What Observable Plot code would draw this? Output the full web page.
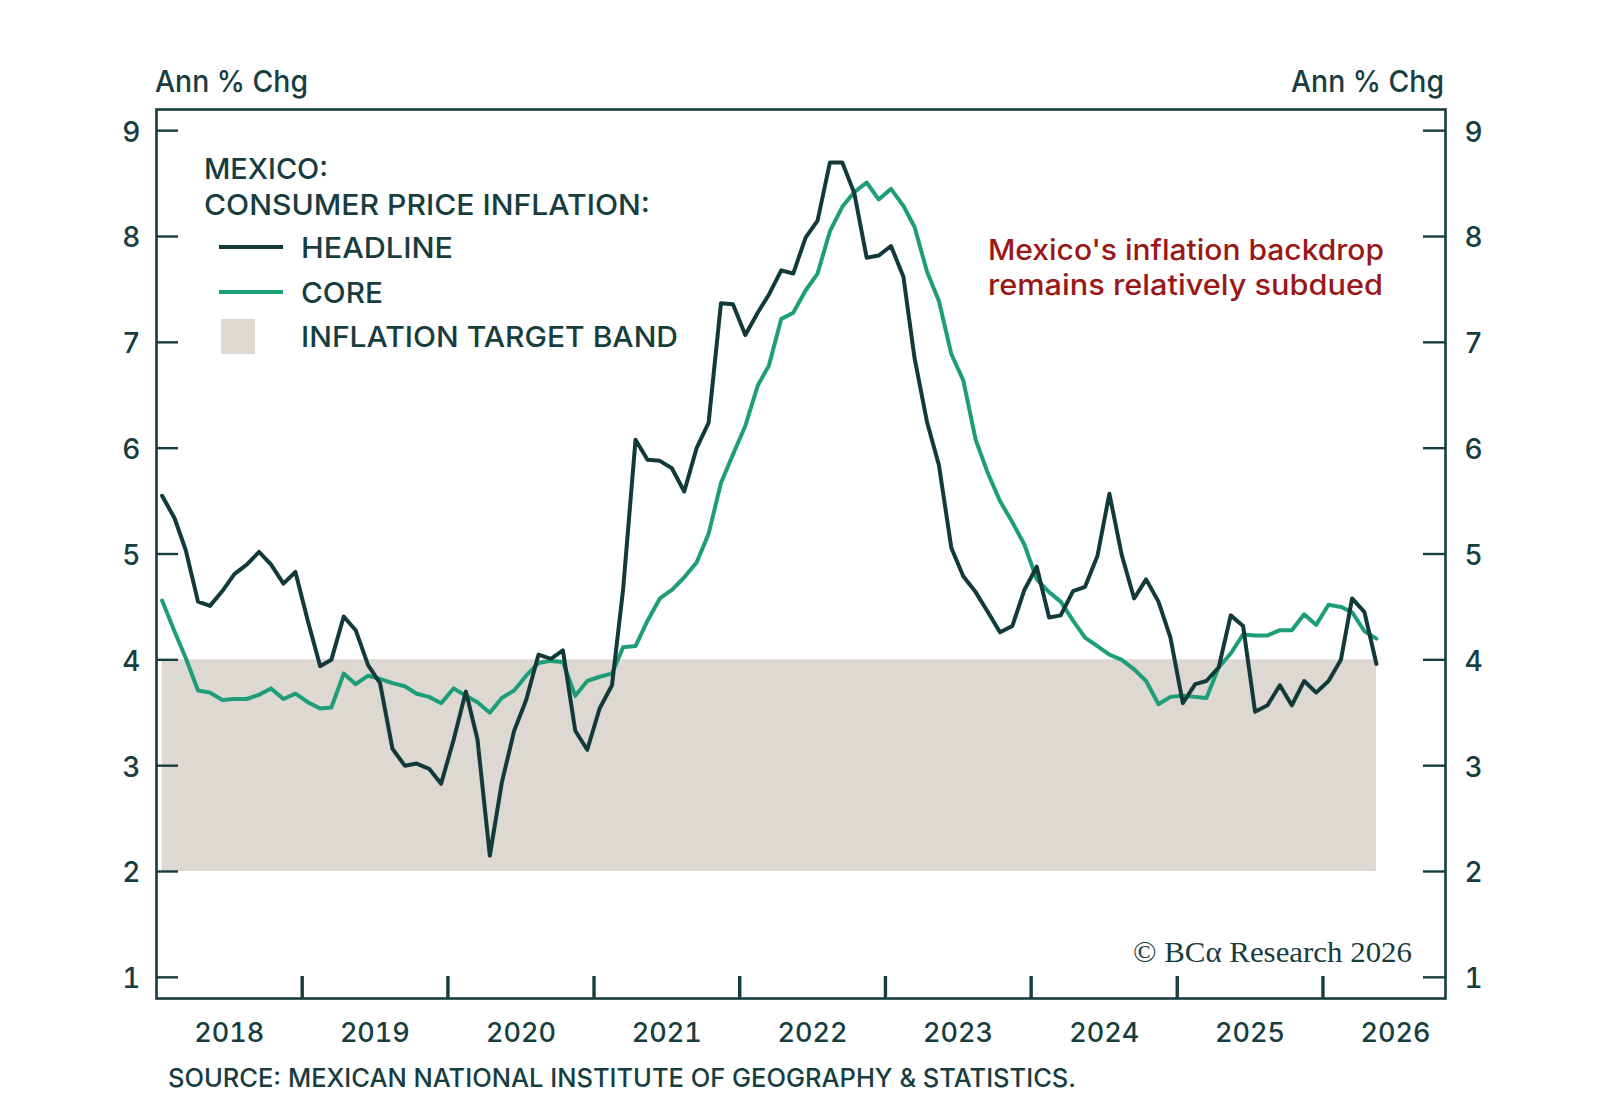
<!DOCTYPE html>
<html><head><meta charset="utf-8">
<script src="https://cdn.jsdelivr.net/npm/d3@7"></script>
<script src="https://cdn.jsdelivr.net/npm/@observablehq/plot@0.6"></script>
<style>
html,body{margin:0;padding:0;background:#fff;}
#chart svg{display:block;}
</style></head><body><div id="chart"></div>
<script>
// ---- data (monthly, Jan 2018 .. May 2026), annual % change ----
const startYear = 2018;
const headline = [
  5.55, 5.34, 5.04, 4.55, 4.51, 4.65, 4.81, 4.90, 5.02, 4.90, 4.72, 4.83,
  4.37, 3.94, 4.00, 4.41, 4.28, 3.95, 3.78, 3.16, 3.00, 3.02, 2.97, 2.83,
  3.24, 3.70, 3.25, 2.15, 2.84, 3.33, 3.62, 4.05, 4.01, 4.09, 3.33, 3.15,
  3.54, 3.76, 4.67, 6.08, 5.89, 5.88, 5.81, 5.59, 6.00, 6.24, 7.37, 7.36,
  7.07, 7.28, 7.45, 7.68, 7.65, 7.99, 8.15, 8.70, 8.70, 8.41, 7.80, 7.82,
  7.91, 7.62, 6.85, 6.25, 5.84, 5.06, 4.79, 4.64, 4.45, 4.26, 4.32, 4.66,
  4.88, 4.40, 4.42, 4.65, 4.69, 4.98, 5.57, 4.99, 4.58, 4.76, 4.55, 4.21,
  3.59, 3.77, 3.80, 3.93, 4.42, 4.32, 3.51, 3.57, 3.76, 3.57, 3.80, 3.69,
  3.80, 4.00, 4.58, 4.45, 3.96
];
const core = [
  4.56, 4.27, 4.02, 3.71, 3.69, 3.62, 3.63, 3.63, 3.67, 3.73, 3.63, 3.68,
  3.60, 3.54, 3.55, 3.87, 3.77, 3.85, 3.82, 3.78, 3.75, 3.68, 3.65, 3.59,
  3.73, 3.66, 3.60, 3.50, 3.64, 3.71, 3.85, 3.97, 3.99, 3.98, 3.66, 3.80,
  3.84, 3.87, 4.12, 4.13, 4.37, 4.58, 4.66, 4.78, 4.92, 5.19, 5.67, 5.94,
  6.21, 6.59, 6.78, 7.22, 7.28, 7.49, 7.65, 8.05, 8.28, 8.42, 8.51, 8.35,
  8.45, 8.29, 8.09, 7.67, 7.39, 6.89, 6.64, 6.08, 5.76, 5.50, 5.30, 5.09,
  4.76, 4.64, 4.55, 4.37, 4.21, 4.13, 4.05, 4.00, 3.91, 3.80, 3.58, 3.65,
  3.66, 3.65, 3.64, 3.93, 4.06, 4.24, 4.23, 4.23, 4.28, 4.28, 4.43, 4.33,
  4.52, 4.50, 4.45, 4.27, 4.20
];
const bandLow = 2;
const bandHigh = 4;
const yTicks = [1, 2, 3, 4, 5, 6, 7, 8, 9];
const yearLabels = [2018, 2019, 2020, 2021, 2022, 2023, 2024, 2025, 2026];
const yearTicks = [2019, 2020, 2021, 2022, 2023, 2024, 2025, 2026];

// ---- styling ----
const INK = "#173d40", HEAD = "#123a3b", CORE = "#1d9e79", BAND = "#ddd8d2", RED = "#9a1717";
const FONT = "Inter, Lato, 'Open Sans', sans-serif";

const dateOf = i => new Date(Date.UTC(startYear, i, 15));
const headRows = headline.map((v, i) => ({date: dateOf(i), value: v}));
const coreRows = core.map((v, i) => ({date: dateOf(i), value: v}));
const bandRows = headline.map((v, i) => ({date: dateOf(i), lo: bandLow, hi: bandHigh}));
const yearTickDates = yearTicks.map(y => new Date(Date.UTC(y, 0, 1)));
const midYearDates = yearLabels.map(y => new Date(Date.UTC(y, 6, 2)));

const W = 1600, H = 1107, mL = 156, mR = 155, mT = 109, mB = 109;
const pw = W - mL - mR, ph = H - mT - mB;

const svg = Plot.plot({
  width: W, height: H,
  marginLeft: mL, marginRight: mR, marginTop: mT, marginBottom: mB,
  style: {fontFamily: FONT, fontSize: "27px", fontWeight: 500, color: INK, background: "white", overflow: "visible"},
  x: {type: "utc", domain: [new Date(Date.UTC(2018, 0, 1)), new Date(Date.UTC(2026, 10, 4))]},
  y: {domain: [0.8, 9.2]},
  marks: [
    Plot.areaY(bandRows, {x: "date", y1: "lo", y2: "hi", fill: BAND}),
    Plot.lineY(coreRows, {x: "date", y: "value", stroke: CORE, strokeWidth: 4}),
    Plot.lineY(headRows, {x: "date", y: "value", stroke: HEAD, strokeWidth: 4}),
    Plot.ruleY(yTicks, {insetRight: pw - 22, stroke: INK, strokeWidth: 2.4}),
    Plot.ruleY(yTicks, {insetLeft: pw - 22, stroke: INK, strokeWidth: 2.4}),
    Plot.ruleX(yearTickDates, {insetTop: ph - 22, stroke: INK, strokeWidth: 3.4}),
    Plot.frame({stroke: INK, strokeWidth: 2.6}),
    Plot.axisY({anchor: "left", ticks: yTicks, tickSize: 0, tickPadding: 16, label: null, fontSize: 28, dy: 2}),
    Plot.axisY({anchor: "right", ticks: yTicks, tickSize: 0, tickPadding: 19, label: null, fontSize: 28, dy: 2}),
    Plot.axisX({anchor: "bottom", ticks: midYearDates, tickSize: 0, tickPadding: 24, label: null, fontSize: 27,
      tickFormat: d => String(d.getUTCFullYear())})
  ]
});
document.getElementById("chart").appendChild(svg);

// ---- annotations / legend ----
const s = d3.select(svg);
function txt(x, y, str, o = {}) {
  const t = s.append("text").attr("x", x).attr("y", y).text(str)
    .attr("fill", o.fill || INK)
    .attr("font-family", o.family || FONT)
    .attr("font-size", o.size || 29)
    .attr("font-weight", o.weight || 500)
    .attr("text-anchor", o.anchor || "start");
  if (o.len) t.attr("textLength", o.len).attr("lengthAdjust", "spacingAndGlyphs");
  return t;
}
txt(155, 92, "Ann % Chg", {size: 30, len: 153});
txt(1444, 92, "Ann % Chg", {size: 30, anchor: "end", len: 153});

txt(204, 179, "MEXICO:", {len: 124});
txt(204, 215, "CONSUMER PRICE INFLATION:", {len: 446});
s.append("line").attr("x1", 219).attr("x2", 283).attr("y1", 247).attr("y2", 247).attr("stroke", HEAD).attr("stroke-width", 4);
txt(301, 258, "HEADLINE", {len: 152});
s.append("line").attr("x1", 219).attr("x2", 283).attr("y1", 292).attr("y2", 292).attr("stroke", CORE).attr("stroke-width", 4);
txt(301, 302.5, "CORE", {len: 82});
s.append("rect").attr("x", 221).attr("y", 319).attr("width", 34).attr("height", 35).attr("fill", BAND);
txt(301, 347, "INFLATION TARGET BAND", {len: 377});

txt(988, 260, "Mexico's inflation backdrop", {fill: RED, size: 28, len: 396});
txt(988, 295, "remains relatively subdued", {fill: RED, size: 28, len: 395});

txt(1133, 962, "© BCα Research 2026", {family: "'Liberation Serif', 'DejaVu Serif', serif", size: 30, weight: 400, len: 279});
txt(168, 1087, "SOURCE: MEXICAN NATIONAL INSTITUTE OF GEOGRAPHY & STATISTICS.", {size: 25, len: 908});
</script>
</body></html>
